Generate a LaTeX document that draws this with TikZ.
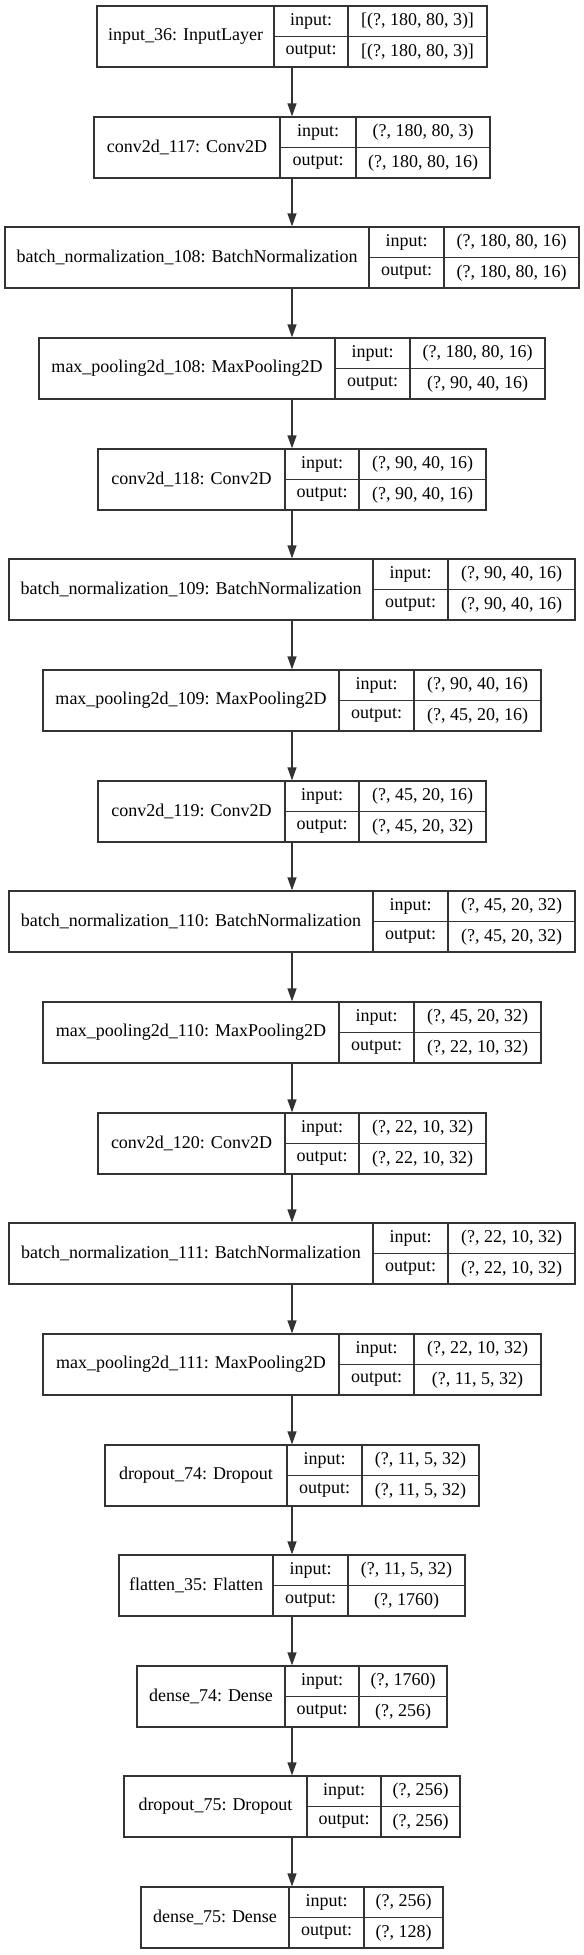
\documentclass[tikz,border=0pt]{standalone}
\usepackage{fontspec}
\setmainfont{Liberation Serif}
\usetikzlibrary{arrows.meta}
\newcommand{\layer}[9]{%
	\node[cell, draw=none, minimum width={(#6-#3)*1bp}, minimum height=61bp] (#1) at ({(#3+#6)/2}, {#2+30.5}) {};
	\node[cell, minimum width={(#4-#3)*1bp}, minimum height=61bp] (#1n) at ({(#3+#4)/2}, {#2+30.5}) {#7};
	\node[cell, minimum width={(#5-#4)*1bp}, minimum height=30.5bp] (#1i) at ({(#4+#5)/2}, {#2+15.25}) {input:};
	\node[cell, minimum width={(#5-#4)*1bp}, minimum height=30.5bp] (#1o) at ({(#4+#5)/2}, {#2+45.75}) {output:};
	\node[cell, minimum width={(#6-#5)*1bp}, minimum height=30.5bp] (#1a) at ({(#5+#6)/2}, {#2+15.25}) {#8};
	\node[cell, minimum width={(#6-#5)*1bp}, minimum height=30.5bp] (#1b) at ({(#5+#6)/2}, {#2+45.75}) {#9};
}
\begin{document}
\begin{tikzpicture}[x=1bp, y=-1bp,
	cell/.style={draw=black!80, line width=1.2bp, inner sep=0pt, font=\fontsize{18bp}{20bp}\selectfont},
	arr/.style={draw=black!80, line width=1.3bp, -{Triangle[length=13bp, width=9bp]}}]
			\useasboundingbox (0,0) rectangle (584,1955);
			\layer{in36}{6}{97}{274}{348}{487}{input\_36: InputLayer}{[(?, 180, 80, 3)]}{[(?, 180, 80, 3)]}
			\layer{c117}{117}{94}{280}{356}{490}{conv2d\_117: Conv2D}{(?, 180, 80, 3)}{(?, 180, 80, 16)}
			\layer{bn108}{227}{5}{369}{444}{579}{batch\_normalization\_108: BatchNormalization}{(?, 180, 80, 16)}{(?, 180, 80, 16)}
			\layer{mp108}{338}{39}{335}{410}{545}{max\_pooling2d\_108: MaxPooling2D}{(?, 180, 80, 16)}{(?, 90, 40, 16)}
			\layer{c118}{449}{98}{285}{359}{486}{conv2d\_118: Conv2D}{(?, 90, 40, 16)}{(?, 90, 40, 16)}
			\layer{bn109}{559}{9}{373}{448}{575}{batch\_normalization\_109: BatchNormalization}{(?, 90, 40, 16)}{(?, 90, 40, 16)}
			\layer{mp109}{670}{43}{339}{414}{541}{max\_pooling2d\_109: MaxPooling2D}{(?, 90, 40, 16)}{(?, 45, 20, 16)}
			\layer{c119}{781}{98}{285}{359}{486}{conv2d\_119: Conv2D}{(?, 45, 20, 16)}{(?, 45, 20, 32)}
			\layer{bn110}{891}{9}{373}{448}{575}{batch\_normalization\_110: BatchNormalization}{(?, 45, 20, 32)}{(?, 45, 20, 32)}
			\layer{mp110}{1002}{43}{339}{414}{541}{max\_pooling2d\_110: MaxPooling2D}{(?, 45, 20, 32)}{(?, 22, 10, 32)}
			\layer{c120}{1113}{98}{285}{359}{486}{conv2d\_120: Conv2D}{(?, 22, 10, 32)}{(?, 22, 10, 32)}
			\layer{bn111}{1223}{9}{373}{448}{575}{batch\_normalization\_111: BatchNormalization}{(?, 22, 10, 32)}{(?, 22, 10, 32)}
			\layer{mp111}{1334}{43}{339}{414}{541}{max\_pooling2d\_111: MaxPooling2D}{(?, 22, 10, 32)}{(?, 11, 5, 32)}
			\layer{do74}{1445}{105}{287}{362}{479}{dropout\_74: Dropout}{(?, 11, 5, 32)}{(?, 11, 5, 32)}
			\layer{fl35}{1555}{119}{273}{348}{465}{flatten\_35: Flatten}{(?, 11, 5, 32)}{(?, 1760)}
			\layer{de74}{1666}{137}{285}{359}{447}{dense\_74: Dense}{(?, 1760)}{(?, 256)}
			\layer{do75}{1776}{124}{307}{381}{460}{dropout\_75: Dropout}{(?, 256)}{(?, 256)}
			\layer{de75}{1887}{141}{289}{364}{443}{dense\_75: Dense}{(?, 256)}{(?, 128)}
			\draw[arr] (in36) to (c117);
			\draw[arr] (c117) to (bn108);
			\draw[arr] (bn108) to (mp108);
			\draw[arr] (mp108) to (c118);
			\draw[arr] (c118) to (bn109);
			\draw[arr] (bn109) to (mp109);
			\draw[arr] (mp109) to (c119);
			\draw[arr] (c119) to (bn110);
			\draw[arr] (bn110) to (mp110);
			\draw[arr] (mp110) to (c120);
			\draw[arr] (c120) to (bn111);
			\draw[arr] (bn111) to (mp111);
			\draw[arr] (mp111) to (do74);
			\draw[arr] (do74) to (fl35);
			\draw[arr] (fl35) to (de74);
			\draw[arr] (de74) to (do75);
			\draw[arr] (do75) to (de75);
\end{tikzpicture}
\end{document}
